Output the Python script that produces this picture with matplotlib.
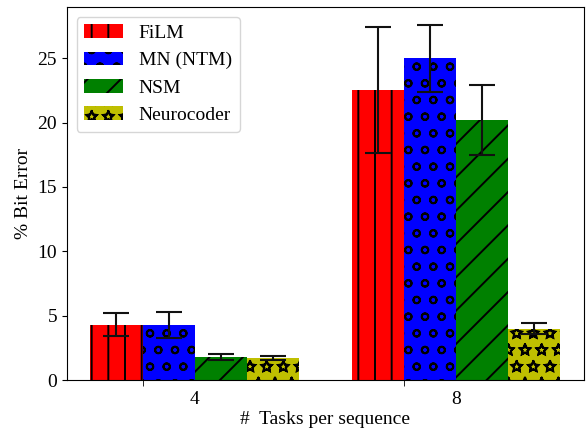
import numpy as np
import matplotlib
matplotlib.use("Agg")
import matplotlib.pyplot as plt
import matplotlib.hatch

plt.rcParams["font.family"] = ["Liberation Serif", "DejaVu Serif"]
plt.rcParams["font.size"] = 14
plt.rcParams["hatch.linewidth"] = 1.4

# estrellas huecas como en la figura original
matplotlib.hatch.Stars.filled = False

# ─────────────────────────────────────────────────────────
#  Datos
# ─────────────────────────────────────────────────────────
groups = ["4", "8"]
methods = ["FiLM", "MN (NTM)", "NSM", "Neurocoder"]

film_mean = [4.3, 22.5]
film_std = [0.9, 4.9]
mn_mean = [4.3, 25.0]
mn_std = [1.0, 2.6]
nsm_mean = [1.8, 20.2]
nsm_std = [0.25, 2.75]
neuro_mean = [1.7, 4.0]
neuro_std = [0.15, 0.45]

means = [film_mean, mn_mean, nsm_mean, neuro_mean]
stds = [film_std, mn_std, nsm_std, neuro_std]
colors = ["red", "blue", "green", "y"]
hatches = ["|", "o", "/", "*"]

# ─────────────────────────────────────────────────────────
#  Figura
# ─────────────────────────────────────────────────────────
fig, ax = plt.subplots(figsize=(5.86, 4.33), dpi=100)
fig.subplots_adjust(left=0.114, right=0.9966, top=0.984, bottom=0.122)

x = np.arange(len(groups))
width = 0.2
offsets = (np.arange(len(methods)) - 1.5) * width

for i, name in enumerate(methods):
    ax.bar(x + offsets[i], means[i], width, yerr=stds[i],
           color=colors[i], hatch=hatches[i], label=name,
           error_kw=dict(ecolor="#111111", elinewidth=1.5,
                         capsize=9.5, capthick=1.5))

ax.set_xticks(x)
ax.set_xticklabels(groups)
ax.set_xticks(x - width, minor=True)
ax.tick_params(axis="x", which="major", length=0, pad=8)
ax.tick_params(axis="x", which="minor", length=4)

ax.set_xlabel("#  Tasks per sequence", labelpad=2)
ax.set_ylabel("% Bit Error")
ax.legend(loc="upper left")

plt.savefig("out.png", dpi=100)
